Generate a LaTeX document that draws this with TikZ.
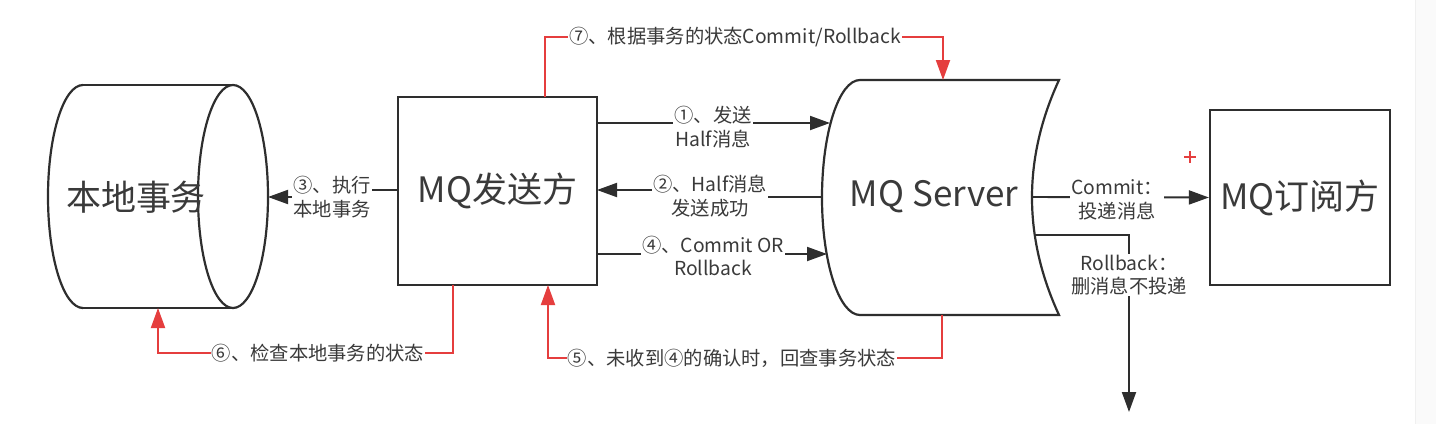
\documentclass[tikz,border=0pt]{standalone}
\usepackage{fontspec}
\setmainfont{Noto Sans CJK SC}
\usetikzlibrary{arrows.meta}
\definecolor{ink}{HTML}{2E2E2E}
\definecolor{txt}{HTML}{3A3A3A}
\definecolor{redl}{HTML}{E53E3E}
\begin{document}
\begin{tikzpicture}[x=1pt,y=-1pt, line join=miter,
  outline/.style={draw=ink, line width=2.2pt},
  big/.style={font=\fontsize{35}{40}\selectfont, text=txt},
  lab/.style={font=\fontsize{19.3}{23.5}\selectfont, text=txt, fill=white, align=center, inner sep=1pt},
  conn/.style={draw=ink, line width=1.9pt},
  redc/.style={draw=redl, line width=1.9pt},
  tip/.style={-{Triangle[length=20pt,width=14pt]}},
]
\fill[white] (0,0) rectangle (1436,424);
\useasboundingbox (0,0) rectangle (1436,424);
\fill[black!2] (1415,0) rectangle (1436,424);
\draw[black!6, line width=1pt] (1415,0) -- (1415,424);

% local transaction cylinder
\draw[outline] (83,85) -- (233,85) (83,308) -- (233,308);
\draw[outline] (83,85) arc[start angle=90, end angle=270, x radius=35pt, y radius=111.5pt];
\draw[outline] (233,196.5) ellipse[x radius=35pt, y radius=111.5pt];
\node[big] (loc) at (136,197) {本地事务};

% MQ sender
\node[outline, big, fill=white, minimum width=199pt, minimum height=188pt] (snd) at (497.5,191) {MQ发送方};

% MQ server (stored data shape)
\draw[outline] (860,80) -- (1059,80) .. controls (1023,158) and (1023,237) .. (1059,315)
  -- (860,315) arc[start angle=270, end angle=90, x radius=38pt, y radius=117.5pt] -- cycle;
\node[big] (srv) at (934,197) {MQ Server};

% MQ subscriber
\node[outline, big, fill=white, minimum width=180pt, minimum height=175pt] (sub) at (1300,197.5) {MQ订阅方};

% anchor points
\coordinate (locR) at (268,197);
\coordinate (locB) at (158,308);
\coordinate (s1) at (597,123);
\coordinate (s2) at (597,190);
\coordinate (s3) at (398,190);
\coordinate (s4) at (597,254);
\coordinate (sB5) at (548,285);
\coordinate (sB6) at (453,285);
\coordinate (sT7) at (545,97);
\coordinate (v1) at (830,123);
\coordinate (v2) at (822,197);
\coordinate (v4) at (827,254);
\coordinate (vT) at (943,80);
\coordinate (vB) at (942,315);
\coordinate (vR1) at (1032,197);
\coordinate (vR2) at (1034,235);
\coordinate (rbEnd) at (1129,412);

% black connectors
\draw[conn,tip] (s1) -- (v1);
\node[lab] (l1) at (713,127) {①、发送\\Half消息};

\draw[conn,tip] (v2) -- (710,197) -- (710,190) -- (s2);
\node[lab] (l2) at (710,196) {②、Half消息\\发送成功};

\draw[conn,tip] (s3) -- (332,190) -- (332,197) -- (locR);
\node[lab] (l3) at (332,197) {③、执行\\本地事务};

\draw[conn,tip] (s4) -- (v4);
\node[lab] (l4) at (713,256) {④、Commit OR\\Rollback};

\draw[conn,tip] (vR1) -- (sub.west);
\node[lab] (lc) at (1117,200) {Commit：\\投递消息};

\draw[conn,tip] (vR2) -| (rbEnd);
\node[lab] (lr) at (1129,275) {Rollback：\\删消息不投递};

% red connectors
\draw[redc,tip] (vB) -- (942,358) -- (548,358) -- (sB5);
\node[lab] (l5) at (732,358) {⑤、未收到④的确认时，回查事务状态};

\draw[redc,tip] (sB6) -- (453,353) -- (158,353) -- (locB);
\node[lab] (l6) at (318,353) {⑥、检查本地事务的状态};

\draw[redc,tip] (sT7) -- (545,37) -- (943,37) -- (vT);
\node[lab] (l7) at (735,37) {⑦、根据事务的状态Commit/Rollback};

% cursor mark
\draw[redl, line width=1.6pt] (1184,157) -- (1196,157) (1190,151) -- (1190,163);
\end{tikzpicture}
\end{document}
